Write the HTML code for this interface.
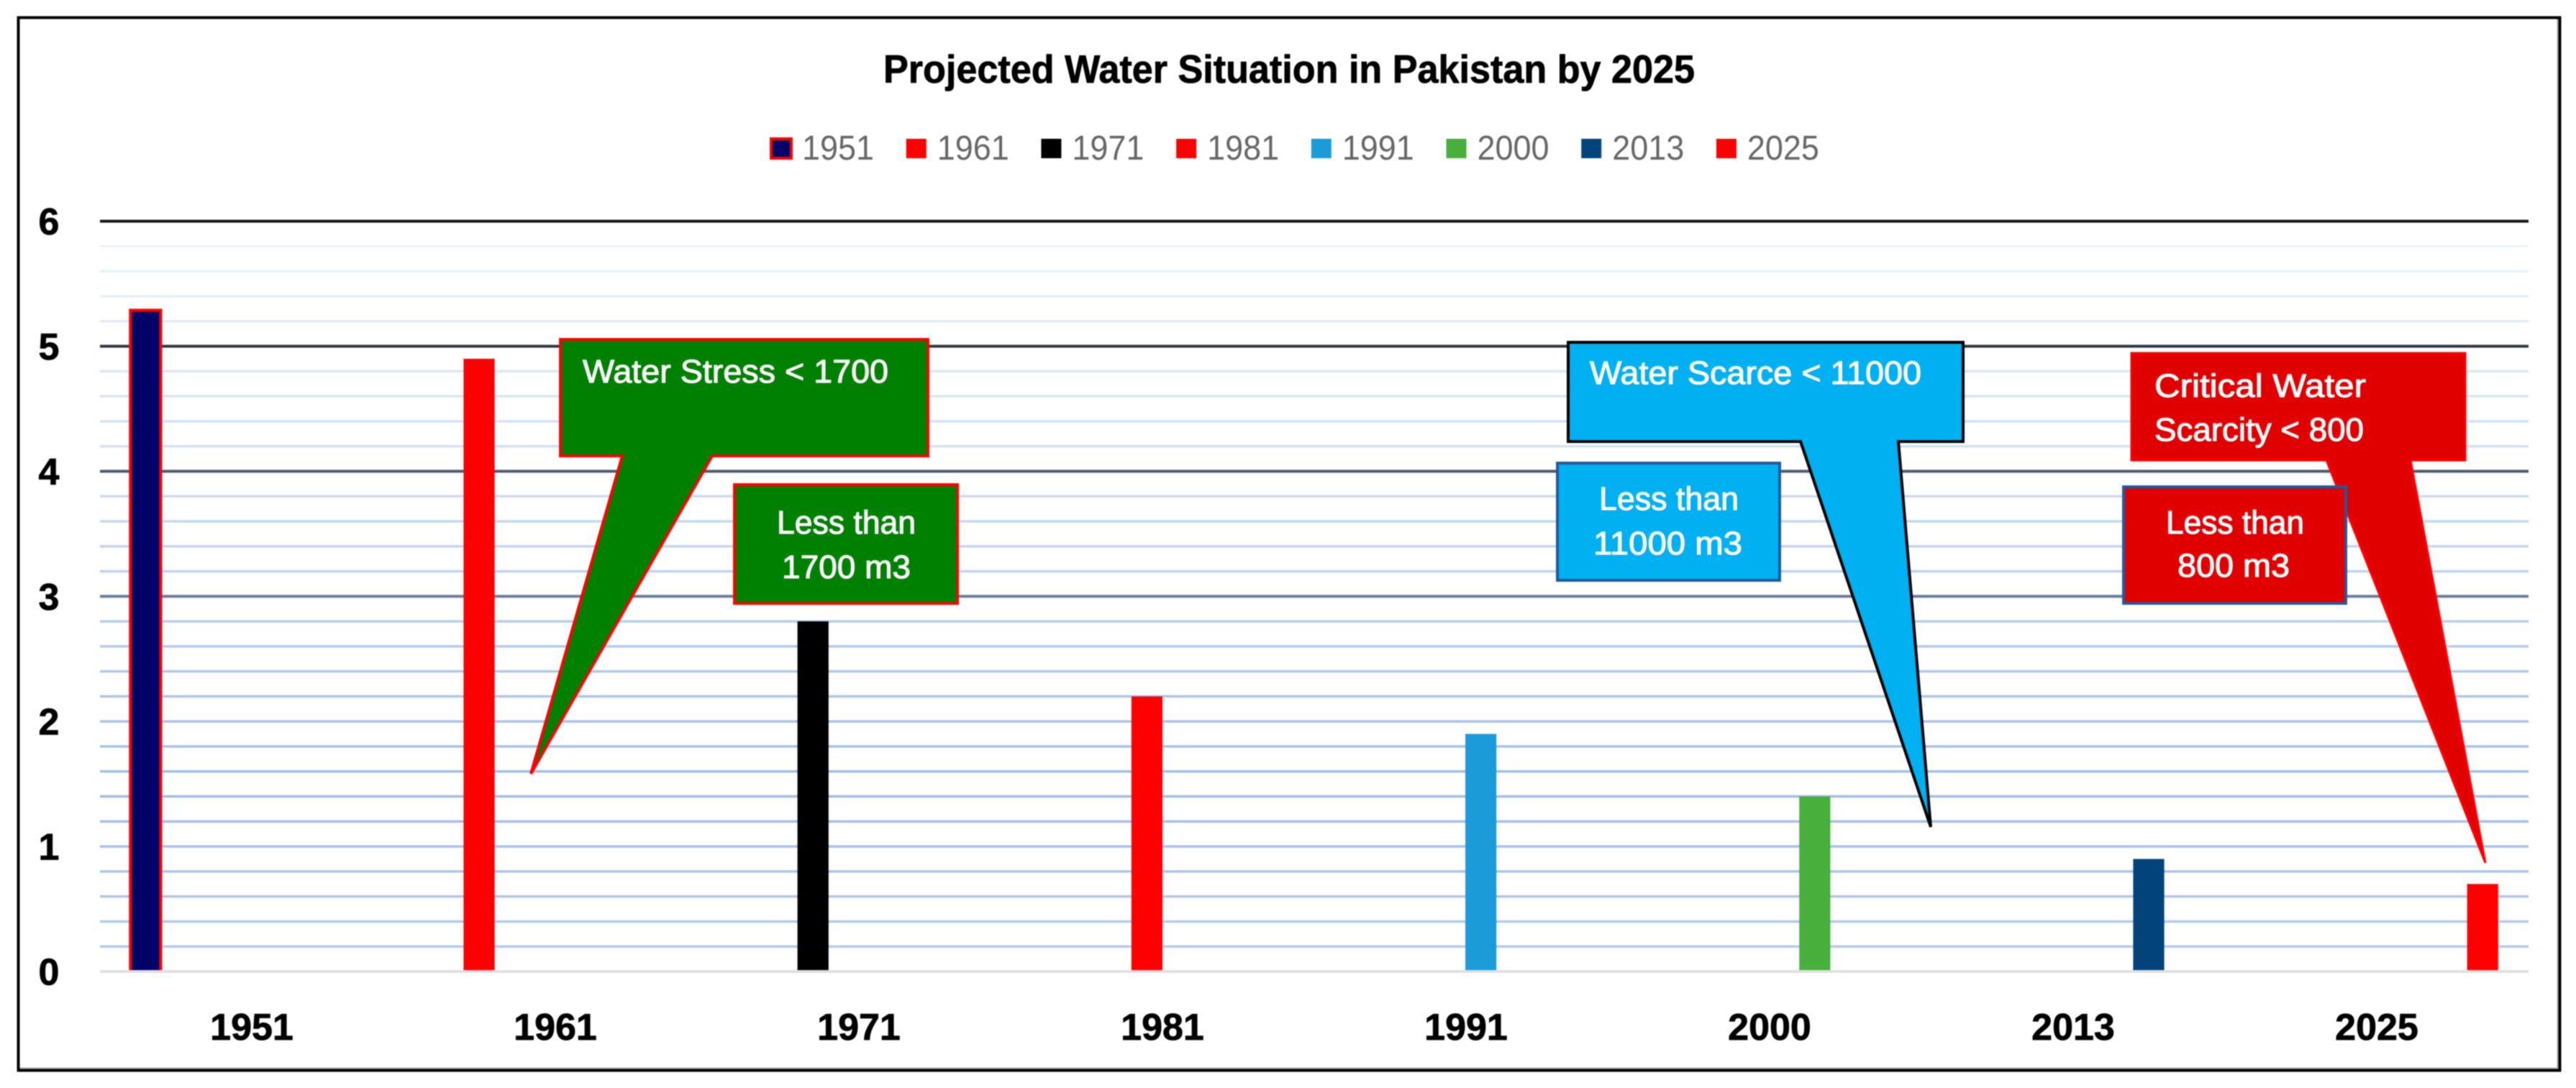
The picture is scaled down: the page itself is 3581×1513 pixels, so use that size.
<!DOCTYPE html>
<html lang="en">
<head>
<meta charset="utf-8">
<title>Projected Water Situation in Pakistan by 2025</title>
<style>
  html, body { margin: 0; padding: 0; background: #fff; width: 3581px; height: 1513px; overflow: hidden; }
  svg { display: block; filter: blur(0.7px); }
  text { font-family: "Liberation Sans", sans-serif; }
  .bold { font-weight: 700; fill: #000; stroke: #000; stroke-width: 0.8px; }
  .legend-label { fill: #666; font-size: 48px; }
  .note { fill: #fff; font-size: 45px; stroke: #fff; stroke-width: 1px; }
  .c-1951 { fill: #000066; stroke: #ff0000; stroke-width: 4px; }
  .c-1961 { fill: #ff0000; }
  .c-1971 { fill: #000000; }
  .c-1981 { fill: #ff0000; }
  .c-1991 { fill: #1b9cd9; }
  .c-2000 { fill: #48ae3c; }
  .c-2013 { fill: #03437c; }
  .c-2025 { fill: #ff0000; }
</style>
</head>
<body>
<svg id="chart" xmlns="http://www.w3.org/2000/svg" width="3581" height="1513" viewBox="0 0 3581 1513">
  <rect x="0" y="0" width="3581" height="1513" fill="#fff"/>
  <path d="M3556 26V1486H27" fill="none" stroke="#a9a9a9" stroke-width="3"/>
  <rect x="25.5" y="24.5" width="3533" height="1464" fill="none" stroke="#000" stroke-width="4"/>
  <text class="bold" x="1228" y="115" font-size="55" textLength="1128" lengthAdjust="spacingAndGlyphs">Projected Water Situation in Pakistan by 2025</text>
  <g id="grid"></g>
  <g id="bars"></g>
  <g id="axes"></g>
  <g id="legend"></g>

  <g>
    <polygon points="779,472 1290,472 1290,634 990,634 738,1076 865,634 779,634" fill="#008000" stroke="#ff0000" stroke-width="4" stroke-miterlimit="3"/>
    <text class="note" x="810" y="532" textLength="425" lengthAdjust="spacingAndGlyphs">Water Stress &lt; 1700</text>
  </g>
  <g>
    <rect x="1021" y="674" width="310" height="165" fill="#008000" stroke="#ff0000" stroke-width="4"/>
    <text class="note" x="1080" y="742" textLength="193" lengthAdjust="spacingAndGlyphs">Less than</text>
    <text class="note" x="1087" y="804" textLength="179" lengthAdjust="spacingAndGlyphs">1700 m3</text>
  </g>

  <g>
    <polygon points="2180,476 2729,476 2729,614 2639,614 2684,1150 2503,614 2180,614" fill="#00b0f0" stroke="#000" stroke-width="4" stroke-miterlimit="3"/>
    <text class="note" x="2210" y="534" textLength="461" lengthAdjust="spacingAndGlyphs">Water Scarce &lt; 11000</text>
  </g>
  <g>
    <rect x="2165" y="644" width="309" height="163" fill="#00b0f0" stroke="#1f5a9e" stroke-width="4"/>
    <text class="note" x="2223" y="709" textLength="194" lengthAdjust="spacingAndGlyphs">Less than</text>
    <text class="note" x="2215" y="771" textLength="207" lengthAdjust="spacingAndGlyphs">11000 m3</text>
  </g>

  <g>
    <polygon points="2963,491 3427,491 3427,640 3351,640 3455,1200 3234,640 2963,640" fill="#e00000" stroke="#ff0000" stroke-width="3" stroke-miterlimit="3"/>
    <text class="note" x="2995" y="552" textLength="294" lengthAdjust="spacingAndGlyphs">Critical Water</text>
    <text class="note" x="2995" y="613" textLength="291" lengthAdjust="spacingAndGlyphs">Scarcity &lt; 800</text>
  </g>
  <g>
    <rect x="2952" y="677" width="309" height="162" fill="#e00000" stroke="#1f5a9e" stroke-width="4"/>
    <text class="note" x="3011" y="742" textLength="192" lengthAdjust="spacingAndGlyphs">Less than</text>
    <text class="note" x="3027" y="802" textLength="156" lengthAdjust="spacingAndGlyphs">800 m3</text>
  </g>
</svg>
<script>
const categories = ['1951', '1961', '1971', '1981', '1991', '2000', '2013', '2025'];
const waterValues = [5.3, 4.9, 2.8, 2.2, 1.9, 1.4, 0.9, 0.7];
const yTickLabels = ['0', '1', '2', '3', '4', '5', '6'];
const darkMajorTicks = ['3', '4', '5', '6'];

const SVGNS = 'http://www.w3.org/2000/svg';
const plotLeft = 139, plotRight = 3515, zeroY = 1351, unitPx = 173.9, minorStep = 0.2;
const catWidth = (plotRight - plotLeft) / categories.length;
const barWidth = catWidth / 10;
const yMax = Number(yTickLabels[yTickLabels.length - 1]);

function yScale(v) { return zeroY - v * unitPx; }
function barX(i) { return plotLeft + i * catWidth + barWidth + i * barWidth; }
function catCenter(i) { return plotLeft + (i + 0.5) * catWidth; }
function mk(tag, attrs, parent) {
  const el = document.createElementNS(SVGNS, tag);
  Object.keys(attrs).forEach(function (k) { el.setAttribute(k, attrs[k]); });
  parent.appendChild(el);
  return el;
}
function mix(a, b, t) {
  const c = a.map(function (x, i) { return Math.round(x + (b[i] - x) * t); });
  return 'rgb(' + c.join(',') + ')';
}
function minorColor(v) {
  if (v >= 1.4) return mix([160, 188, 228], [240, 245, 252], (v - 1.4) / 4.6);
  return mix([184, 206, 236], [160, 188, 228], v / 1.4);
}
function majorColor(v) {
  return mix([105, 124, 158], [20, 20, 20], (v - 3) / 3);
}

const gridG = document.getElementById('grid');
const steps = Math.round(yMax / minorStep);
for (let s = 1; s <= steps; s++) {
  const v = s * minorStep;
  const dark = Math.abs(v - Math.round(v)) < 1e-6 && darkMajorTicks.indexOf(String(Math.round(v))) >= 0;
  const line = mk('line', {
    x1: plotLeft, x2: plotRight, y1: yScale(v), y2: yScale(v),
    stroke: dark ? majorColor(v) : minorColor(v),
    'stroke-width': dark ? 4 : 3.5
  }, gridG);
  
  
}

const barsG = document.getElementById('bars');
categories.forEach(function (cat, i) {
  const inset = cat === '1951' ? 2 : 0;
  const top = yScale(waterValues[i]) + inset;
  const bar = mk('rect', {
    x: barX(i) - 1 + inset / 2,
    y: top,
    width: barWidth + 1 - inset / 2,
    height: zeroY - top,
    class: 'c-' + cat
  }, barsG);
  
  
});

const axesG = document.getElementById('axes');
const baseline = mk('rect', { x: plotLeft, y: zeroY - 2, width: plotRight - plotLeft, height: 4, fill: '#e0e0e0' }, axesG);



yTickLabels.forEach(function (label) {
  const t = mk('text', { x: 68, y: yScale(Number(label)) + 18.5, 'text-anchor': 'middle', 'font-size': 52, class: 'bold' }, axesG);
  t.textContent = label;
  
  
});

categories.forEach(function (cat, i) {
  const t = mk('text', { x: catCenter(i), y: 1446, 'text-anchor': 'middle', 'font-size': 52, class: 'bold' }, axesG);
  t.textContent = cat;
  
  
});

const legendG = document.getElementById('legend');
const legendLeft = 1072, legendStep = 187.7;
categories.forEach(function (cat, i) {
  const x = legendLeft + i * legendStep;
  const g = mk('g', {}, legendG);
  
  
  const swatch = mk('rect', { x: x, y: 193, width: 28, height: 27, class: 'c-' + cat }, g);
  
  
  const label = mk('text', { x: x + 43, y: 222, class: 'legend-label', textLength: 100, lengthAdjust: 'spacingAndGlyphs' }, g);
  label.textContent = cat;
  
  
});
</script>
</body>
</html>
